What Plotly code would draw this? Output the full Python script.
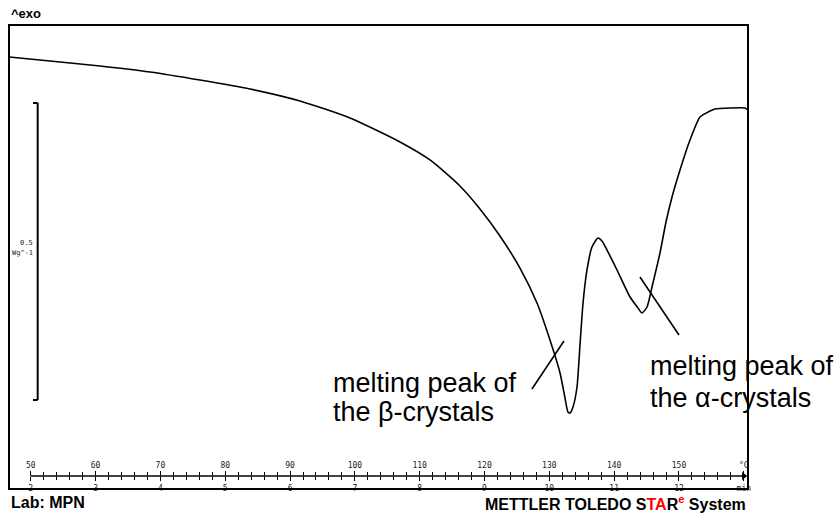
import plotly.graph_objects as go

# Temperature (°C) and heat flow (W/g) of the DSC trace
temp_c = [46.7, 52.96, 60.68, 68.39, 76.10, 83.82, 91.53, 99.24, 106.96, 111.59,
          116.21, 119.30, 122.38, 125.47, 128.10, 130.10, 131.65, 132.42, 132.88, 133.19,
          133.65, 134.27, 134.73, 135.20, 135.81, 136.58, 137.51, 138.12, 138.90, 140.44,
          142.45, 143.68, 144.30, 145.07, 145.84, 147.07, 148.00, 148.93, 150.16, 151.70,
          153.25, 154.79, 155.56, 157.88, 160.19, 160.6]
heat_flow = [0.0859, 0.0791, 0.0707, 0.0606, 0.0471, 0.0320, 0.0118, -0.0168, -0.0572, -0.0875,
             -0.1313, -0.1700, -0.2155, -0.2694, -0.3283, -0.3906, -0.4461, -0.4882, -0.5118, -0.5135,
             -0.5034, -0.4697, -0.3990, -0.3283, -0.2727, -0.2340, -0.2189, -0.2239, -0.2391, -0.2727,
             -0.3182, -0.3367, -0.3451, -0.3350, -0.3013, -0.2441, -0.1919, -0.1498, -0.1044, -0.0539,
             -0.0152, -0.0051, -0.0017, 0.0, 0.0, -0.0034]

# pointer lines for the two peak labels
beta_ptr_t = [127.32, 132.26]
beta_ptr_v = [-0.4731, -0.3923]
alpha_ptr_t = [143.98, 150.0]
alpha_ptr_v = [-0.2845, -0.3822]

# ruler (bottom scale)
temp_ticks = [50, 60, 70, 80, 90, 100, 110, 120, 130, 140, 150, 160]
temp_labels = ["50", "60", "70", "80", "90", "100", "110", "120", "130", "140", "150", "°C"]
min_labels = ["2", "3", "4", "5", "6", "7", "8", "9", "10", "11", "12", "min"]
minor_ticks = [t for t in range(52, 160, 2) if t % 10 != 0]

# scale bar: 0.5 W/g
scale_top = 0.0084
scale_bottom = -0.4916

X_RANGE = [46.64, 160.65]
Y_RANGE = [-0.6414, 0.1397]
RULER_V = -0.6195
RULER_P = 0.028

fig = go.Figure()
fig.add_trace(go.Scatter(x=temp_c, y=heat_flow, mode="lines",
                         line=dict(color="black", width=1.6, shape="spline", smoothing=0.6),
                         hoverinfo="skip"))
fig.add_trace(go.Scatter(x=beta_ptr_t, y=beta_ptr_v, mode="lines",
                         line=dict(color="black", width=1.6), hoverinfo="skip"))
fig.add_trace(go.Scatter(x=alpha_ptr_t, y=alpha_ptr_v, mode="lines",
                         line=dict(color="black", width=1.6), hoverinfo="skip"))
# ruler line with end arrow
fig.add_trace(go.Scatter(x=[temp_ticks[0], temp_ticks[-1]], y=[RULER_V, RULER_V], mode="lines",
                         line=dict(color="black", width=1.5), hoverinfo="skip"))
fig.add_trace(go.Scatter(x=[temp_ticks[-1]], y=[RULER_V], mode="markers",
                         marker=dict(symbol="triangle-right", size=7, color="black"),
                         hoverinfo="skip"))

tick_font = dict(family="DejaVu Sans Mono", size=8, color="#222")
fig.update_layout(
    width=839, height=513,
    margin=dict(l=9, r=91, t=25, b=24),
    paper_bgcolor="white", plot_bgcolor="white",
    showlegend=False,
    xaxis=dict(range=X_RANGE, side="top", anchor="free", position=RULER_P,
               showline=False, showgrid=False, zeroline=False,
               tickmode="array", tickvals=temp_ticks, ticktext=temp_labels,
               ticks="outside", ticklen=5, tickwidth=1.4, tickcolor="black",
               tickfont=tick_font,
               minor=dict(tickvals=minor_ticks, ticks="outside", ticklen=4,
                          tickwidth=1.3, tickcolor="black")),
    xaxis2=dict(range=X_RANGE, overlaying="x", side="bottom", anchor="free", position=RULER_P,
                showline=False, showgrid=False, zeroline=False,
                tickmode="array", tickvals=temp_ticks, ticktext=min_labels,
                ticks="outside", ticklen=4, tickwidth=1.4, tickcolor="black",
                tickfont=tick_font,
                minor=dict(tickvals=minor_ticks, ticks="outside", ticklen=3,
                           tickwidth=1.3, tickcolor="black")),
    yaxis=dict(range=Y_RANGE, visible=False),
)
# invisible trace on xaxis2 so the axis is drawn
fig.add_trace(go.Scatter(x=[temp_ticks[0]], y=[RULER_V], xaxis="x2", mode="markers",
                         marker=dict(size=1, opacity=0), hoverinfo="skip"))

# frame
fig.add_shape(type="rect", xref="paper", yref="paper", x0=0, x1=1, y0=0, y1=1,
              line=dict(color="black", width=2))
# scale bar
bx, bt = 0.0388, 0.0325
fig.add_shape(type="line", xref="paper", yref="y", x0=bx, x1=bx, y0=scale_bottom, y1=scale_top,
              line=dict(color="black", width=2))
fig.add_shape(type="line", xref="paper", yref="y", x0=bt, x1=bx, y0=scale_top, y1=scale_top,
              line=dict(color="black", width=2))
fig.add_shape(type="line", xref="paper", yref="y", x0=bt, x1=bx, y0=scale_bottom, y1=scale_bottom,
              line=dict(color="black", width=2))

small = dict(family="DejaVu Sans Mono", size=7, color="#222")
big = dict(family="Liberation Sans, Arial", size=27, color="black")
ann = [
    dict(x=0, y=1, xref="paper", yref="paper", xanchor="left", yanchor="bottom",
         text="<b>^exo</b>", font=dict(family="Liberation Sans, Arial", size=13, color="black"),
         yshift=2),
    dict(x=0.0352, y=0.530, xref="paper", yref="paper", xanchor="right", yanchor="middle",
         text="0.5", font=small),
    dict(x=0.0352, y=0.5086, xref="paper", yref="paper", xanchor="right", yanchor="middle",
         text="Wg^-1", font=small),
    dict(x=0.4357, y=0.2284, xref="paper", yref="paper", xanchor="left", yanchor="middle",
         text="melting peak of", font=big),
    dict(x=0.4357, y=0.1659, xref="paper", yref="paper", xanchor="left", yanchor="middle",
         text="the β-crystals", font=big),
    dict(x=0.8647, y=0.2651, xref="paper", yref="paper", xanchor="left", yanchor="middle",
         text="melting peak of", font=big),
    dict(x=0.8647, y=0.1961, xref="paper", yref="paper", xanchor="left", yanchor="middle",
         text="the α-crystals", font=big),
    dict(x=0, y=-0.030, xref="paper", yref="paper", xanchor="left", yanchor="middle",
         text="<b>Lab: MPN</b>", font=dict(family="Liberation Sans, Arial", size=16, color="black")),
    dict(x=1, y=-0.030, xref="paper", yref="paper", xanchor="right", yanchor="middle",
         text="<b>METTLER TOLEDO S<span style='color:red'>TA</span>R"
              "<sup><span style='color:red'>e</span></sup> System</b>",
         font=dict(family="Liberation Sans, Arial", size=16, color="black")),
]
for a in ann:
    a.setdefault("showarrow", False)
    fig.add_annotation(**a)

fig.write_html("out.html", config={"displayModeBar": False},
               post_script="document.body.style.margin='0';document.body.style.padding='0';"
                           "document.body.style.overflow='hidden';")
